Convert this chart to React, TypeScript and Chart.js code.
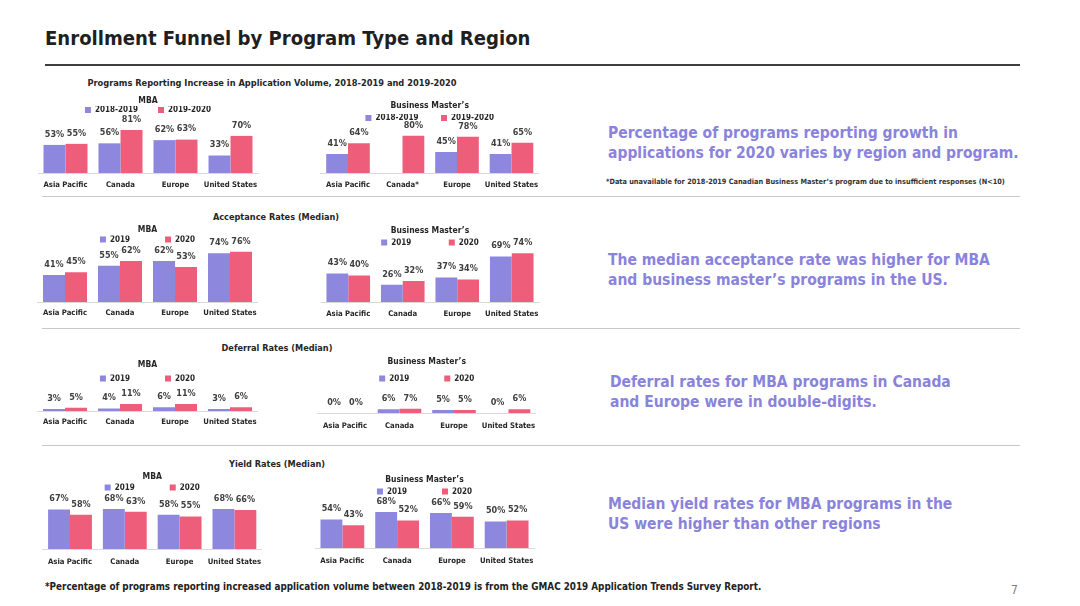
import React, { useEffect, useRef } from 'react';
import { Chart, registerables } from 'chart.js';

Chart.register(...registerables);

const FONT = '"DejaVu Sans Condensed", "DejaVu Sans", Verdana, sans-serif';
Chart.defaults.font.family = FONT;

const PURPLE = '#8E87DE';
const PINK = '#EE5E7B';
const INK = '#262626';
const VALUE_INK = '#3F3F3F';
const ACCENT = '#8A83DC';

// ---------- data ----------
const regions = ['Asia Pacific', 'Canada', 'Europe', 'United States'];
const regionsBM = ['Asia Pacific', 'Canada*', 'Europe', 'United States'];
const periodLegend = ['2018-2019', '2019-2020'];
const yearLegend = ['2019', '2020'];

const appMBA1819 = [53, 56, 62, 33];
const appMBA1920 = [55, 81, 63, 70];
const appBM1819 = [41, null, 45, 41];
const appBM1920 = [64, 80, 78, 65];
const accMBA2019 = [41, 55, 62, 74];
const accMBA2020 = [45, 62, 53, 76];
const accBM2019 = [43, 26, 37, 69];
const accBM2020 = [40, 32, 34, 74];
const defMBA2019 = [3, 4, 6, 3];
const defMBA2020 = [5, 11, 11, 6];
const defBM2019 = [0, 6, 5, 0];
const defBM2020 = [0, 7, 5, 6];
const yldMBA2019 = [67, 68, 58, 68];
const yldMBA2020 = [58, 63, 55, 66];
const yldBM2019 = [54, 68, 66, 50];
const yldBM2020 = [43, 52, 59, 52];

// ---------- layout ----------
type Spec = {
  title: string;
  labels: string[];
  legend: string[];
  a: (number | null)[];
  b: (number | null)[];
  titleY: number;
  legendY: number;
  baseline: number;
  labelY: number;
  pxPerPct: number;
  left: number;
  right: number;
  gap: number;
};

const MBA = 'MBA';
const BM = 'Business Master\u2019s';

const specs: Spec[] = [
  { title: MBA, labels: regions, legend: periodLegend, a: appMBA1819, b: appMBA1920, titleY: 101, legendY: 110, baseline: 173, labelY: 185.5, pxPerPct: 0.53, left: 38, right: 258, gap: 21 },
  { title: BM, labels: regionsBM, legend: periodLegend, a: appBM1819, b: appBM1920, titleY: 106, legendY: 118, baseline: 173, labelY: 185.5, pxPerPct: 0.465, left: 320.75, right: 538.75, gap: 23 },
  { title: MBA, labels: regions, legend: yearLegend, a: accMBA2019, b: accMBA2020, titleY: 229.5, legendY: 239.5, baseline: 302, labelY: 313.5, pxPerPct: 0.66, left: 37.5, right: 257.5, gap: 36 },
  { title: BM, labels: regions, legend: yearLegend, a: accBM2019, b: accBM2020, titleY: 230.5, legendY: 242.5, baseline: 302, labelY: 314.5, pxPerPct: 0.66, left: 321, right: 539, gap: 37 },
  { title: MBA, labels: regions, legend: yearLegend, a: defMBA2019, b: defMBA2020, titleY: 364.5, legendY: 378.5, baseline: 411, labelY: 422.5, pxPerPct: 0.64, left: 37.5, right: 257.5, gap: 36 },
  { title: BM, labels: regions, legend: yearLegend, a: defBM2019, b: defBM2020, titleY: 361.5, legendY: 378.5, baseline: 413, labelY: 426.5, pxPerPct: 0.62, left: 317.75, right: 535.75, gap: 35 },
  { title: MBA, labels: regions, legend: yearLegend, a: yldMBA2019, b: yldMBA2020, titleY: 476.5, legendY: 487.5, baseline: 549, labelY: 562.5, pxPerPct: 0.59, left: 42.6, right: 261.8, gap: 36 },
  { title: BM, labels: regions, legend: yearLegend, a: yldBM2019, b: yldBM2020, titleY: 479.5, legendY: 491.5, baseline: 548, labelY: 561.5, pxPerPct: 0.53, left: 315, right: 534, gap: 36 },
];

const TITLE_SIZE = 8.5;
const LEGEND_SIZE = 8;
const TICK_SIZE = 7.7;
const VALUE_SIZE = 9;
const PADX = 14;
const LEGEND_H = 10;

const valueLabels = {
  id: 'valueLabels',
  afterDatasetsDraw(chart: any) {
    const ctx = chart.ctx;
    ctx.save();
    ctx.font = `bold ${VALUE_SIZE}px ${FONT}`;
    ctx.fillStyle = VALUE_INK;
    ctx.textAlign = 'center';
    ctx.textBaseline = 'middle';
    chart.data.datasets.forEach((ds: any, i: number) => {
      const meta = chart.getDatasetMeta(i);
      meta.data.forEach((el: any, j: number) => {
        const v = ds.data[j];
        if (v === null || v === undefined) return;
        ctx.fillText(`${v}%`, el.x, el.y - 10.5);
      });
    });
    ctx.restore();
  },
};

function MiniChart({ s }: { s: Spec }) {
  const ref = useRef<HTMLCanvasElement>(null);
  const half = TITLE_SIZE * 0.6;
  const rawTop = s.titleY - half;
  const top = Math.floor(rawTop);
  const padTop = rawTop - top;
  const padBot = s.legendY - s.titleY - half - Math.max(LEGEND_SIZE, 6) / 2;
  const areaTop = s.titleY + half + padBot + LEGEND_H;
  const tickPad = s.labelY - s.baseline - TICK_SIZE * 0.6;
  const rawBottom = s.baseline + 2 * tickPad + TICK_SIZE * 1.2;
  const height = Math.ceil(rawBottom - top);
  const padBottom = top + height - rawBottom;
  const left = Math.floor(s.left - PADX);
  const width = Math.ceil(s.right + PADX - left);
  const padLeft = s.left - left;
  const padRight = left + width - s.right;
  const yMax = (s.baseline - areaTop) / s.pxPerPct;

  useEffect(() => {
    const canvas = ref.current!;
    const c2 = canvas.getContext('2d')!;
    c2.font = `bold ${LEGEND_SIZE}px ${FONT}`;
    const spaceW = c2.measureText('          ').width / 10 || 2.5;
    const n = Math.max(1, Math.round(s.gap / spaceW));
    const chart = new Chart(canvas, {
      type: 'bar',
      data: {
        labels: s.labels,
        datasets: [
          { label: s.legend[0] + ' '.repeat(n), data: s.a as any, backgroundColor: PURPLE, borderWidth: 0, categoryPercentage: 0.8, barPercentage: 1 },
          { label: s.legend[1], data: s.b as any, backgroundColor: PINK, borderWidth: 0, categoryPercentage: 0.8, barPercentage: 1 },
        ],
      },
      options: {
        responsive: false,
        animation: false,
        events: [],
        layout: { padding: { left: padLeft, right: padRight, top: 0, bottom: padBottom } },
        plugins: {
          title: {
            display: true,
            text: s.title,
            color: INK,
            font: { size: TITLE_SIZE, weight: 'bold', family: FONT, lineHeight: 1.2 },
            padding: { top: padTop, bottom: padBot },
          },
          legend: {
            display: true,
            position: 'top',
            maxHeight: LEGEND_H,
            labels: {
              boxWidth: 6,
              boxHeight: 6,
              padding: 0,
              color: INK,
              font: { size: LEGEND_SIZE, weight: 'bold', family: FONT },
            },
          },
          tooltip: { enabled: false },
        },
        scales: {
          x: {
            grid: { display: false, drawTicks: false },
            border: { display: true, color: '#D9D9D9', width: 1 },
            ticks: {
              padding: tickPad,
              color: INK,
              autoSkip: false,
              maxRotation: 0,
              font: { size: TICK_SIZE, weight: 'bold', family: FONT, lineHeight: 1.2 },
            },
          },
          y: { display: false, min: 0, max: yMax },
        },
      } as any,
      plugins: [valueLabels],
    });
    return () => chart.destroy();
  }, []);

  return (
    <canvas
      ref={ref}
      width={width}
      height={height}
      style={{ position: 'absolute', left, top, width, height }}
    />
  );
}

function Txt(props: {
  x: number;
  y: number;
  size: number;
  color?: string;
  bold?: boolean;
  center?: boolean;
  lh?: number;
  children: React.ReactNode;
}) {
  const lh = props.lh ?? Math.round(props.size * 1.25);
  return (
    <div
      style={{
        position: 'absolute',
        left: props.x,
        top: props.y - lh / 2,
        fontFamily: FONT,
        fontSize: props.size,
        lineHeight: `${lh}px`,
        fontWeight: props.bold === false ? 'normal' : 'bold',
        color: props.color ?? INK,
        whiteSpace: 'nowrap',
        transform: props.center ? 'translateX(-50%)' : undefined,
      }}
    >
      {props.children}
    </div>
  );
}

function Rule({ y, x1, x2, h, color }: { y: number; x1: number; x2: number; h: number; color: string }) {
  return <div style={{ position: 'absolute', left: x1, top: y - h / 2, width: x2 - x1, height: h, background: color }} />;
}

function Statement({ x, y, lines }: { x: number; y: number; lines: string[] }) {
  return (
    <div
      style={{
        position: 'absolute',
        left: x,
        top: y - 10,
        fontFamily: FONT,
        fontSize: 15.5,
        lineHeight: '20px',
        fontWeight: 'bold',
        color: ACCENT,
        whiteSpace: 'nowrap',
      }}
    >
      {lines.map((l, i) => (
        <div key={i}>{l}</div>
      ))}
    </div>
  );
}

export default function App() {
  return (
    <div
      style={{
        position: 'fixed',
        left: 0,
        top: 0,
        width: 1080,
        height: 606,
        background: '#ffffff',
        overflow: 'hidden',
      }}
    >
      <Txt x={45} y={38} size={20.1} color="#1F1F1F" lh={26}>
        Enrollment Funnel by Program Type and Region
      </Txt>
      <Rule y={65} x1={45} x2={1020} h={2} color="#3F3F3F" />

      <Txt x={272} y={82.5} size={9.2} center>
        Programs Reporting Increase in Application Volume, 2018-2019 and 2019-2020
      </Txt>
      <Txt x={276} y={217.5} size={9.1} center>
        Acceptance Rates (Median)
      </Txt>
      <Txt x={277} y={348.5} size={9.1} center>
        Deferral Rates (Median)
      </Txt>
      <Txt x={277} y={464.5} size={9.1} center>
        Yield Rates (Median)
      </Txt>

      {specs.map((s, i) => (
        <MiniChart key={i} s={s} />
      ))}

      <Rule y={196} x1={42} x2={1020} h={1} color="#C8C8C8" />
      <Rule y={328} x1={42} x2={1020} h={1} color="#C8C8C8" />
      <Rule y={445} x1={42} x2={1020} h={1} color="#C8C8C8" />

      <Statement
        x={608}
        y={133}
        lines={['Percentage of programs reporting growth in', 'applications for 2020 varies by region and program.']}
      />
      <Txt x={606} y={181.5} size={7.3} color="#333333">
        *Data unavailable for 2018-2019 Canadian Business Master’s program due to insufficient responses (N&lt;10)
      </Txt>
      <Statement
        x={608}
        y={260}
        lines={['The median acceptance rate was higher for MBA', 'and business master\u2019s programs in the US.']}
      />
      <Statement
        x={610}
        y={382}
        lines={['Deferral rates for MBA programs in Canada', 'and Europe were in double-digits.']}
      />
      <Statement
        x={608}
        y={504}
        lines={['Median yield rates for MBA programs in the', 'US were higher than other regions']}
      />

      <Txt x={45} y={587} size={9.8} color="#222222">
        *Percentage of programs reporting increased application volume between 2018-2019 is from the GMAC 2019 Application Trends Survey Report.
      </Txt>
      <Txt x={1011} y={590} size={12} color="#7F7F7F" bold={false}>
        7
      </Txt>
    </div>
  );
}
